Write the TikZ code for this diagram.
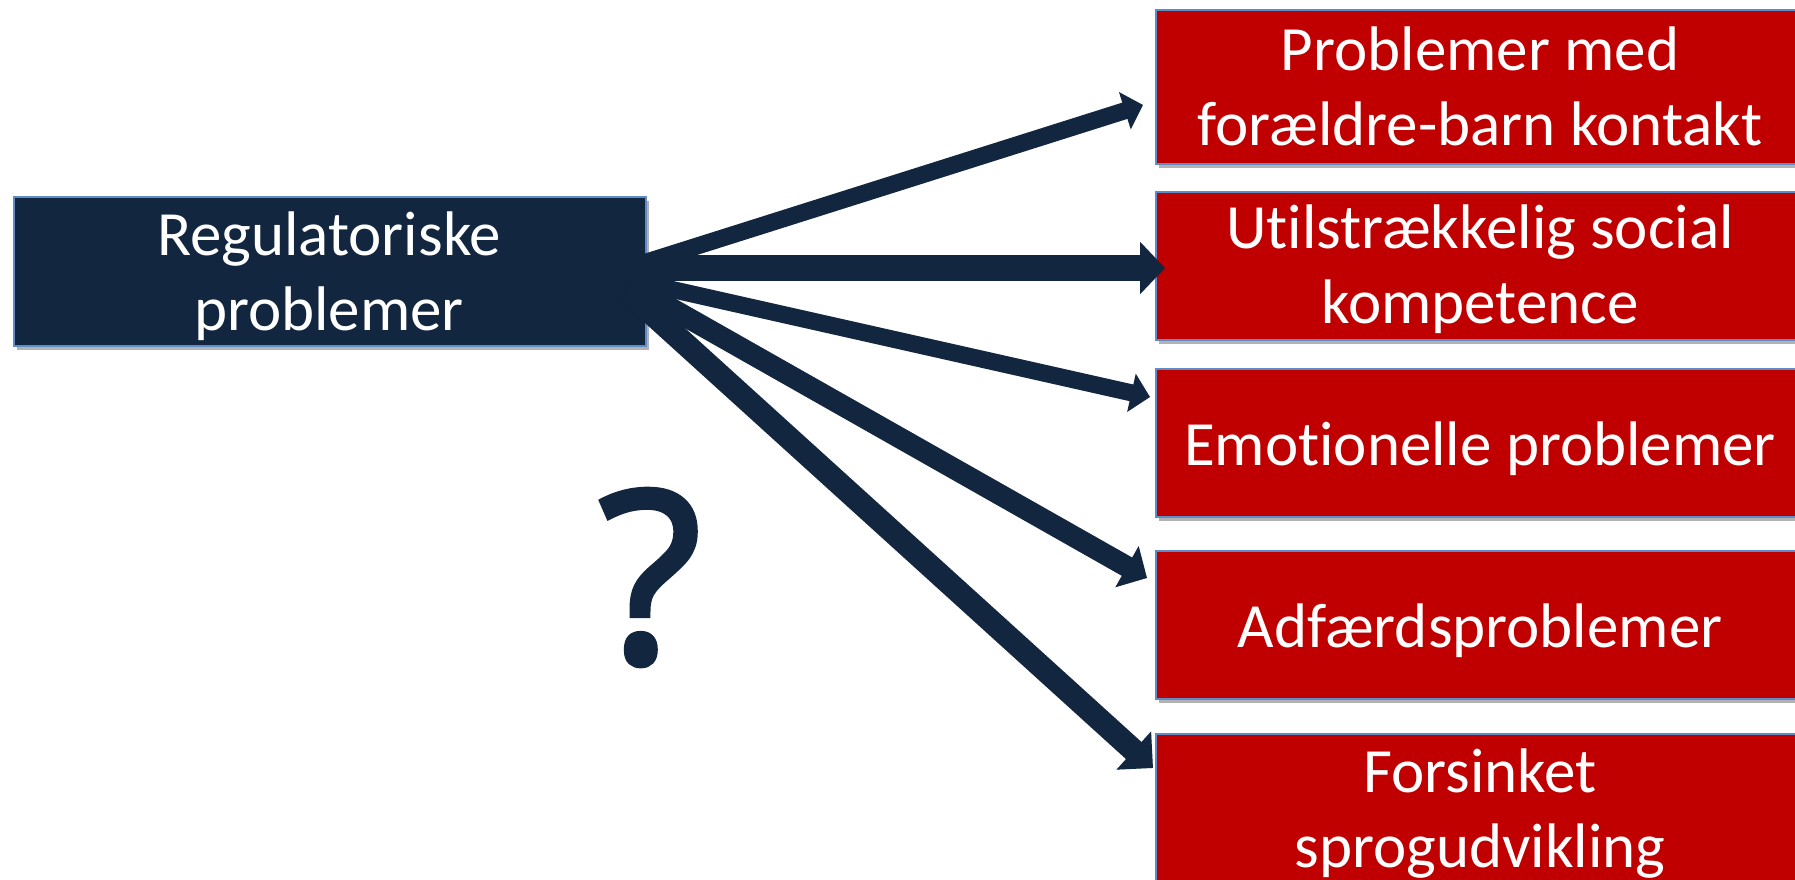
\documentclass[tikz,border=0pt]{standalone}
\usepackage{fontspec}
\setmainfont{Carlito}[Ligatures={NoCommon,NoRequired,NoContextual}]
\newfontfamily\qfont{Open Sans}[FakeBold=2.5]
\usetikzlibrary{arrows.meta,shadows}
\definecolor{navy}{RGB}{18,38,64}
\definecolor{boxred}{RGB}{192,0,0}
\definecolor{edgeblue}{RGB}{95,140,200}
\newcommand{\tstrut}{\rule{0pt}{50pt}}
\newcommand{\bstrut}{\rule[-20pt]{0pt}{20pt}}
\begin{document}
\begin{tikzpicture}[x=1pt,y=-1pt,
  boxshadow/.style={drop shadow={shadow xshift=3pt,shadow yshift=-4pt,opacity=0.3,fill=black}},
  navybox/.style={draw=edgeblue,line width=1.5pt,fill=navy,boxshadow,minimum width=632pt,minimum height=149pt,inner sep=0pt,anchor=north west},
  redbox/.style={draw=edgeblue,line width=1.5pt,fill=boxred,boxshadow,minimum width=655pt,inner sep=0pt,anchor=north west},
  boxtext/.style={text=white,font=\fontsize{63}{75}\selectfont,align=center,inner sep=0pt},
  qmark/.style={text=navy,font=\qfont\fontsize{238}{238}\selectfont,inner sep=0pt,anchor=base},
  conn/.style={draw=navy,line cap=butt},
  connshadow/.style={draw=black,opacity=0.18,line cap=butt,shift={(2pt,-3pt)}}
]
\clip (0,0) rectangle (1795,879);
\fill[white] (0,0) rectangle (1795,879);

% boxes
\node[navybox] (src) at (13,196) {};
\node[redbox,minimum height=154pt] (r1) at (1155,9) {};
\node[redbox,minimum height=148pt] (r2) at (1155,191) {};
\node[redbox,minimum height=148pt] (r3) at (1155,368) {};
\node[redbox,minimum height=148pt] (r4) at (1155,550) {};
\node[redbox,minimum height=148pt] (r5) at (1155,733) {};

% texts
\node[boxtext] (srct) at (329,277.5) {\tstrut Regulatoriske\\problemer\bstrut};
\node[boxtext] (r1t) at (1480,92.5) {\tstrut Problemer med\\forældre-barn kontakt\bstrut};
\node[boxtext] (r2t) at (1480,270.5) {\tstrut Utilstrækkelig social\\kompetence\bstrut};
\node[boxtext] (r3t) at (1480,450) {\tstrut Emotionelle problemer\bstrut};
\node[boxtext] (r4t) at (1480,632) {\tstrut Adfærdsproblemer\bstrut};
\node[boxtext] (r5t) at (1480,814.5) {\tstrut Forsinket\\sprogudvikling\bstrut};

\node[qmark] (q) at (650,662) {?};

% connector ends
\coordinate (s1) at (634,266);
\coordinate (e1) at (1143,105);
\coordinate (s2) at (632,268);
\coordinate (e2) at (1165,268);
\coordinate (s3) at (630,280);
\coordinate (e3) at (1150,397);
\coordinate (s4) at (630,285);
\coordinate (e4) at (1147,578);
\coordinate (s5) at (628,292);
\coordinate (e5) at (1153,768);

\foreach \s/\e/\w/\hl/\hw in {s1/e1/17/19/38, s2/e2/26/25/51, s3/e3/17/19/38, s4/e4/21/23/46, s5/e5/23/26/50}{
  \draw[connshadow,line width=\w pt,-{Triangle[length=\hl pt,width=\hw pt]}] (\s) -- (\e);
}
\foreach \s/\e/\w/\hl/\hw in {s1/e1/17/19/38, s2/e2/26/25/51, s3/e3/17/19/38, s4/e4/21/23/46, s5/e5/23/26/50}{
  \draw[conn,line width=\w pt,-{Triangle[length=\hl pt,width=\hw pt]}] (\s) -- (\e);
}
\end{tikzpicture}
\end{document}
